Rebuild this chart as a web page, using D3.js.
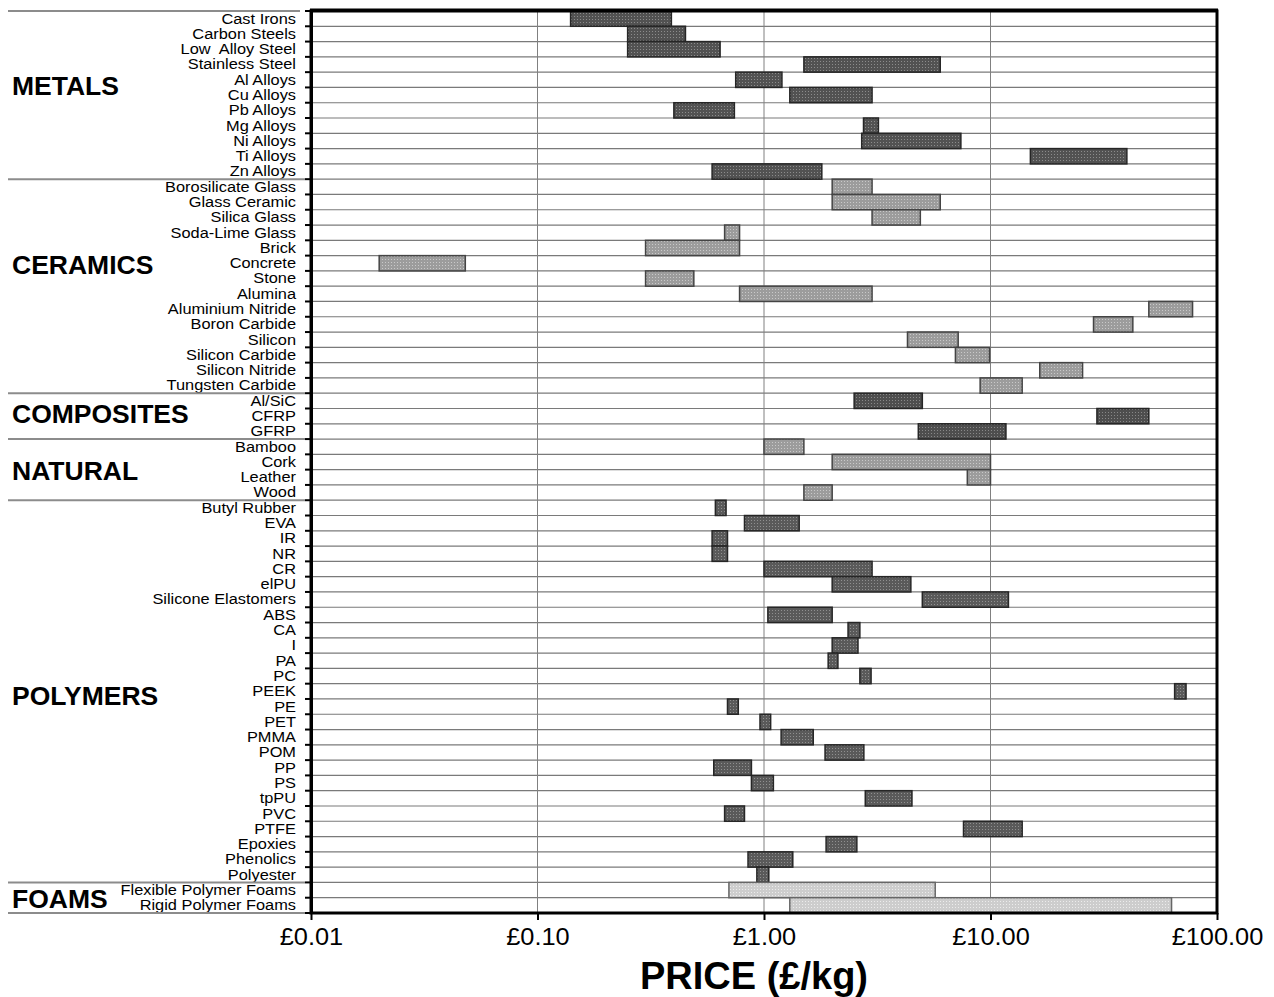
<!DOCTYPE html>
<html>
<head>
<meta charset="utf-8">
<script src="https://cdn.jsdelivr.net/npm/d3@7"></script>
<style>
  html, body { margin: 0; padding: 0; background: #fff; }
  svg { display: block; }
  text { font-family: "Liberation Sans", Arial, sans-serif; }
</style>
</head>
<body>
<svg id="chart" width="1274" height="997"></svg>
<script>
// ---------------- DATA ----------------
const groupNames = ["METALS", "CERAMICS", "COMPOSITES", "NATURAL", "POLYMERS", "FOAMS"];

const materials = [
  "Cast Irons", "Carbon Steels", "Low  Alloy Steel", "Stainless Steel", "Al Alloys", "Cu Alloys",
  "Pb Alloys", "Mg Alloys", "Ni Alloys", "Ti Alloys", "Zn Alloys",
  "Borosilicate Glass", "Glass Ceramic", "Silica Glass", "Soda-Lime Glass", "Brick", "Concrete",
  "Stone", "Alumina", "Aluminium Nitride", "Boron Carbide", "Silicon", "Silicon Carbide",
  "Silicon Nitride", "Tungsten Carbide",
  "Al/SiC", "CFRP", "GFRP",
  "Bamboo", "Cork", "Leather", "Wood",
  "Butyl Rubber", "EVA", "IR", "NR", "CR", "elPU", "Silicone Elastomers", "ABS", "CA", "I",
  "PA", "PC", "PEEK", "PE", "PET", "PMMA", "POM", "PP", "PS", "tpPU", "PVC", "PTFE",
  "Epoxies", "Phenolics", "Polyester",
  "Flexible Polymer Foams", "Rigid Polymer Foams"
];

const materialGroup = [
  "METALS","METALS","METALS","METALS","METALS","METALS","METALS","METALS","METALS","METALS","METALS",
  "CERAMICS","CERAMICS","CERAMICS","CERAMICS","CERAMICS","CERAMICS","CERAMICS","CERAMICS","CERAMICS",
  "CERAMICS","CERAMICS","CERAMICS","CERAMICS","CERAMICS",
  "COMPOSITES","COMPOSITES","COMPOSITES",
  "NATURAL","NATURAL","NATURAL","NATURAL",
  "POLYMERS","POLYMERS","POLYMERS","POLYMERS","POLYMERS","POLYMERS","POLYMERS","POLYMERS","POLYMERS",
  "POLYMERS","POLYMERS","POLYMERS","POLYMERS","POLYMERS","POLYMERS","POLYMERS","POLYMERS","POLYMERS",
  "POLYMERS","POLYMERS","POLYMERS","POLYMERS","POLYMERS","POLYMERS","POLYMERS",
  "FOAMS","FOAMS"
];

// price range, £/kg
const priceLow = [
  0.14, 0.25, 0.25, 1.5, 0.75, 1.3, 0.4, 2.75, 2.7, 15, 0.59,
  2.0, 2.0, 3.0, 0.67, 0.3, 0.02, 0.3, 0.78, 50, 28.5, 4.3, 7.0, 16.5, 9.0,
  2.5, 29.5, 4.8,
  1.0, 2.0, 7.9, 1.5,
  0.61, 0.82, 0.59, 0.59, 1.0, 2.0, 5.0, 1.04, 2.35, 2.0, 1.92, 2.65, 65, 0.69, 0.96, 1.19,
  1.86, 0.6, 0.88, 2.8, 0.67, 7.6, 1.88, 0.85, 0.93,
  0.7, 1.3
];
const priceHigh = [
  0.39, 0.45, 0.64, 6.0, 1.2, 3.0, 0.74, 3.2, 7.4, 40, 1.8,
  3.0, 6.0, 4.9, 0.78, 0.78, 0.048, 0.49, 3.0, 78, 42.5, 7.2, 9.9, 25.5, 13.8,
  5.0, 50, 11.7,
  1.5, 10.0, 10.0, 2.0,
  0.68, 1.43, 0.69, 0.69, 3.0, 4.45, 12, 2.0, 2.65, 2.6, 2.12, 2.97, 73, 0.77, 1.07, 1.65,
  2.76, 0.88, 1.1, 4.5, 0.82, 13.8, 2.57, 1.34, 1.05,
  5.7, 63
];

const xTicks = [0.01, 0.1, 1, 10, 100];
const xTickLabels = ["£0.01", "£0.10", "£1.00", "£10.00", "£100.00"];
const xAxisTitle = "PRICE (£/kg)";

// ---------------- LAYOUT ----------------
const plot = { left: 311, right: 1217, top: 11, bottom: 913 };
const groupStyle = {
  METALS:     { base: "#525252", dot: "#8c8c8c", stroke: "#262626", labelRow: 4.85 },
  CERAMICS:   { base: "#9c9c9c", dot: "#c9c9c9", stroke: "#444444", labelRow: 16.6 },
  COMPOSITES: { base: "#4e4e4e", dot: "#888888", stroke: "#262626", labelRow: 26.35 },
  NATURAL:    { base: "#9c9c9c", dot: "#c9c9c9", stroke: "#444444", labelRow: 30.05 },
  POLYMERS:   { base: "#5a5a5a", dot: "#909090", stroke: "#262626", labelRow: 44.75 },
  FOAMS:      { base: "#cdcdcd", dot: "#ececec", stroke: "#666666", labelRow: 58.05 }
};

const svg = d3.select("#chart");

const x = d3.scaleLog().domain([0.01, 100]).range([plot.left, plot.right]);
const y = d3.scaleBand().domain(materials).range([plot.top, plot.bottom]).padding(0);
const rowH = y.bandwidth();

// patterns
const defs = svg.append("defs");
groupNames.forEach((g, i) => {
  const s = groupStyle[g];
  const p = defs.append("pattern").attr("id", "pat" + i)
    .attr("patternUnits", "userSpaceOnUse").attr("width", 3).attr("height", 3);
  p.append("rect").attr("width", 3).attr("height", 3).attr("fill", s.base);
  p.append("rect").attr("x", 1).attr("y", 1).attr("width", 1).attr("height", 1).attr("fill", s.dot);
});

// horizontal row grid lines
const boundaries = d3.range(materials.length + 1).map(i => plot.top + i * rowH);
svg.append("g").selectAll("line").data(boundaries.slice(1, -1)).join("line")
  .attr("x1", plot.left).attr("x2", plot.right)
  .attr("y1", d => d).attr("y2", d => d)
  .attr("stroke", "#7a7a7a").attr("stroke-width", 1.2);

// vertical grid lines
svg.append("g").selectAll("line").data(xTicks.slice(1, -1)).join("line")
  .attr("x1", d => x(d)).attr("x2", d => x(d))
  .attr("y1", plot.top).attr("y2", plot.bottom)
  .attr("stroke", "#808080").attr("stroke-width", 1);

// bars
const rows = materials.map((m, i) => ({ name: m, group: materialGroup[i], lo: priceLow[i], hi: priceHigh[i] }));
svg.append("g").selectAll("rect").data(rows).join("rect")
  .attr("x", d => x(d.lo))
  .attr("width", d => x(d.hi) - x(d.lo))
  .attr("y", d => y(d.name))
  .attr("height", rowH)
  .attr("fill", d => "url(#pat" + groupNames.indexOf(d.group) + ")")
  .attr("stroke", d => groupStyle[d.group].stroke)
  .attr("stroke-width", 1.5);

// plot frame
svg.append("rect")
  .attr("x", plot.left).attr("y", plot.top)
  .attr("width", plot.right - plot.left).attr("height", plot.bottom - plot.top)
  .attr("fill", "none").attr("stroke", "#000").attr("stroke-width", 3);
svg.append("line").attr("x1", plot.left - 1).attr("x2", plot.right + 1)
  .attr("y1", plot.top - 1).attr("y2", plot.top - 1).attr("stroke", "#000").attr("stroke-width", 3);
svg.append("line").attr("x1", plot.left + 1).attr("x2", plot.left + 1)
  .attr("y1", plot.top).attr("y2", plot.bottom).attr("stroke", "#000").attr("stroke-width", 2);

// left ticks at row boundaries
svg.append("g").selectAll("line").data(boundaries).join("line")
  .attr("x1", plot.left - 6).attr("x2", plot.left)
  .attr("y1", d => d).attr("y2", d => d)
  .attr("stroke", "#000").attr("stroke-width", 2);

// row labels (slightly widened, as in the reference)
svg.append("g").selectAll("text").data(materials).join("text")
  .attr("transform", d => `translate(296,${y(d) + rowH / 2}) scale(1.07,1)`)
  .attr("dy", "0.32em")
  .attr("text-anchor", "end")
  .attr("font-size", 15.3)
  .attr("fill", "#000")
  .attr("xml:space", "preserve")
  .text(d => d);

// group separators and labels
const groupStart = groupNames.map(g => materialGroup.indexOf(g));
const sepRows = groupStart.concat([materials.length]);
svg.append("g").selectAll("line").data(sepRows).join("line")
  .attr("x1", 8).attr("x2", (d, i) => i === 0 ? 300 : plot.left - 6)
  .attr("y1", d => plot.top + d * rowH).attr("y2", d => plot.top + d * rowH)
  .attr("stroke", "#8c8c8c").attr("stroke-width", 2);

svg.append("g").selectAll("text").data(groupNames).join("text")
  .attr("x", 12)
  .attr("y", g => plot.top + groupStyle[g].labelRow * rowH)
  .attr("dy", "0.36em")
  .attr("font-size", 26.5)
  .attr("font-weight", "bold")
  .attr("fill", "#000")
  .text(g => g);

// bottom axis
const xAxis = d3.axisBottom(x).tickValues(xTicks)
  .tickFormat((d, i) => xTickLabels[i]).tickSize(7).tickPadding(8);
const ax = svg.append("g").attr("transform", `translate(0,${plot.bottom})`).call(xAxis);
ax.select(".domain").remove();
ax.selectAll(".tick line").attr("stroke", "#000").attr("stroke-width", 2);
ax.selectAll(".tick text")
  .attr("font-family", "'Liberation Sans', Arial, sans-serif")
  .attr("font-size", 23.5).attr("fill", "#000")
  .attr("transform", "scale(1.08,1)");

svg.append("text")
  .attr("x", (plot.left + plot.right) / 2 - 10)
  .attr("y", 989)
  .attr("text-anchor", "middle")
  .attr("font-size", 38)
  .attr("font-weight", "bold")
  .attr("fill", "#000")
  .text(xAxisTitle);
</script>
</body>
</html>
